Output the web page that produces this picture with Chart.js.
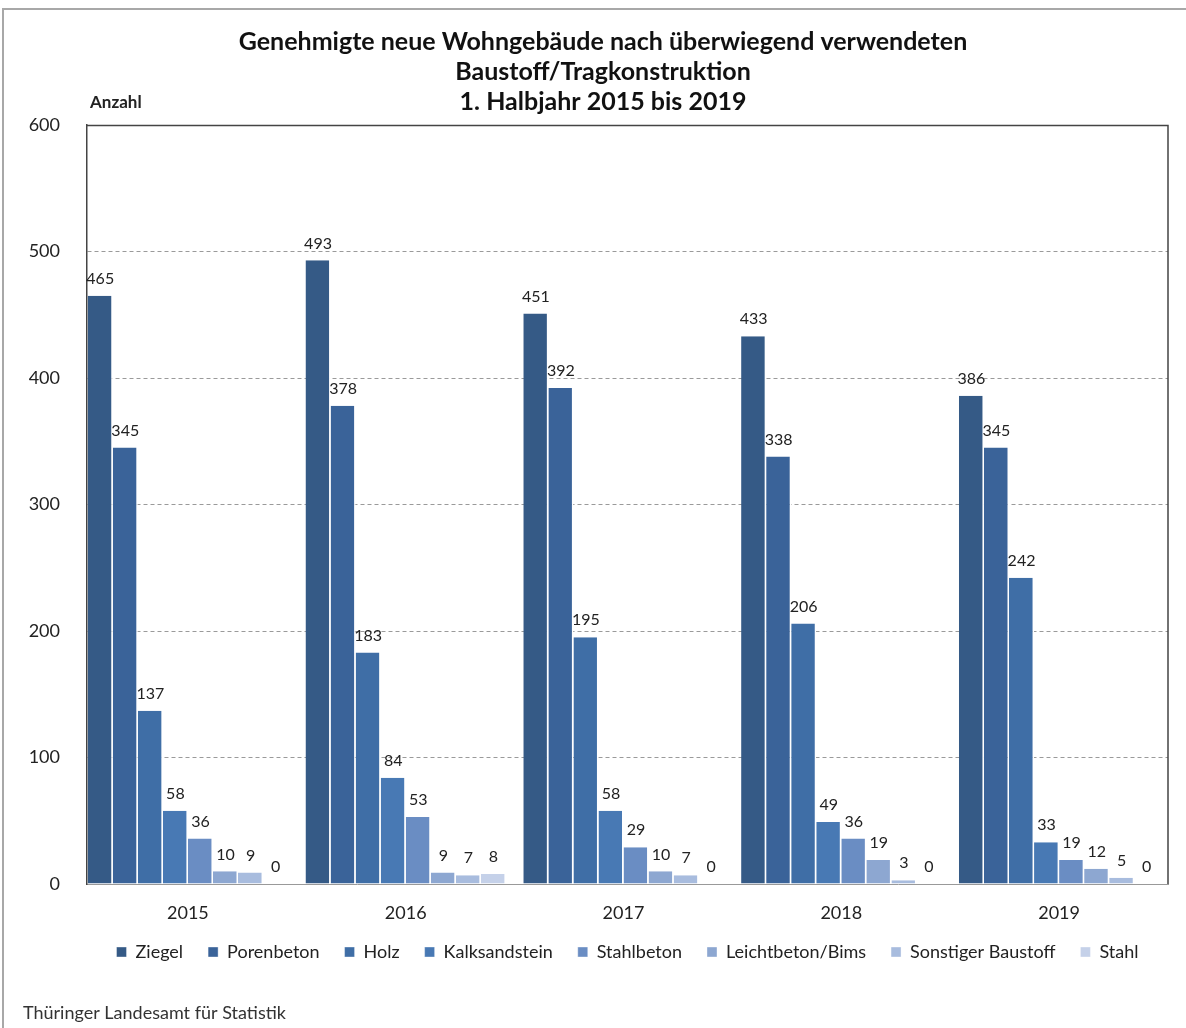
<!DOCTYPE html>
<html>
<head>
<meta charset="utf-8">
<script src="https://cdn.jsdelivr.net/npm/chart.js@4.4.1/dist/chart.umd.min.js"></script>
<style>
  html, body { margin: 0; padding: 0; background: #fff; }
  #wrap { width: 1186px; height: 1028px; position: relative; }
</style>
</head>
<body>
<div id="wrap"><canvas id="myBarChart" width="1186" height="1028"></canvas></div>
<script>
// Daten: genehmigte neue Wohngebäude, 1. Halbjahr
const years = ['2015', '2016', '2017', '2018', '2019'];
const ziegel = [465, 493, 451, 433, 386];
const porenbeton = [345, 378, 392, 338, 345];
const holz = [137, 183, 195, 206, 242];
const kalksandstein = [58, 84, 58, 49, 33];
const stahlbeton = [36, 53, 29, 36, 19];
const leichtbeton = [10, 9, 10, 19, 12];
const sonstiger = [9, 7, 7, 3, 5];
const stahl = [0, 8, 0, 0, 0];
const yTicks = [0, 100, 200, 300, 400, 500, 600];
const titleLines = [
    'Genehmigte neue Wohngebäude nach überwiegend verwendeten',
    'Baustoff/Tragkonstruktion',
    '1. Halbjahr 2015 bis 2019'
];

const fontFamily = 'Lato, "Open Sans", sans-serif';
const textColor = '#222';

// Beschriftung über den Balken
const valueLabels = {
    id: 'valueLabels',
    afterDatasetsDraw(chart) {
        const ctx = chart.ctx;
        ctx.save();
        ctx.font = '16px ' + fontFamily;
        ctx.fillStyle = textColor;
        ctx.textAlign = 'center';
        ctx.textBaseline = 'bottom';
        chart.data.datasets.forEach((ds, i) => {
            const meta = chart.getDatasetMeta(i);
            meta.data.forEach((bar, j) => {
                ctx.fillText(ds.data[j], bar.x, bar.y - 9);
            });
        });
        ctx.restore();
    }
};

// Excel-artige Lage: Gruppen beginnen direkt an der linken Achse, Legende etwas höher
const layoutTweak = {
    id: 'layoutTweak',
    afterLayout(chart) {
        const x = chart.scales.x;
        x._startPixel -= 8;
        x._length += 8;
        if (chart.legend) {
            chart.legend.top -= 6;
            chart.legend.bottom -= 6;
        }
    }
};

// Rahmen, Titel, Achsentitel und Quelle
const frame = {
    id: 'frame',
    afterDraw(chart) {
        const ctx = chart.ctx;
        const a = chart.chartArea;
        ctx.save();
        // äußerer Rahmen
        ctx.strokeStyle = '#a8a8a8';
        ctx.lineWidth = 2;
        ctx.beginPath();
        ctx.moveTo(1186, 9);
        ctx.lineTo(3, 9);
        ctx.lineTo(3, 1028);
        ctx.stroke();
        // Rahmen der Zeichenfläche
        ctx.strokeStyle = '#444';
        ctx.lineWidth = 1.5;
        ctx.beginPath();
        ctx.moveTo(a.left, a.top + 0.5);
        ctx.lineTo(a.right, a.top + 0.5);
        ctx.lineTo(a.right, a.bottom);
        ctx.stroke();
        // Titel
        ctx.fillStyle = '#111';
        ctx.textBaseline = 'middle';
        ctx.textAlign = 'center';
        ctx.font = 'bold 25px ' + fontFamily;
        titleLines.forEach((t, i) => ctx.fillText(t, 603, 42 + i * 30));
        ctx.fillStyle = textColor;
        ctx.textAlign = 'left';
        ctx.font = 'bold 17px ' + fontFamily;
        ctx.fillText('Anzahl', 90, 103);
        ctx.font = '18px ' + fontFamily;
        ctx.fillStyle = '#333';
        ctx.fillText('Thüringer Landesamt für Statistik', 23, 1013);
        ctx.restore();
    }
};

const ctx = document.getElementById('myBarChart').getContext('2d');
new Chart(ctx, {
    type: 'bar',
    data: {
        labels: years,
        datasets: [
            { label: 'Ziegel', data: ziegel, backgroundColor: '#355A86' },
            { label: 'Porenbeton', data: porenbeton, backgroundColor: '#3A6399' },
            { label: 'Holz', data: holz, backgroundColor: '#3F6EA6' },
            { label: 'Kalksandstein', data: kalksandstein, backgroundColor: '#4879B4' },
            { label: 'Stahlbeton', data: stahlbeton, backgroundColor: '#6A8DC3' },
            { label: 'Leichtbeton/Bims', data: leichtbeton, backgroundColor: '#8DA7D1' },
            { label: 'Sonstiger Baustoff', data: sonstiger, backgroundColor: '#A8BCDE' },
            { label: 'Stahl', data: stahl, backgroundColor: '#C5D1E9' }
        ].map(ds => Object.assign(ds, {
            borderColor: '#ffffff',
            borderWidth: { left: 0, right: 1.5, top: 0, bottom: 0 },
            borderSkipped: false,
            categoryPercentage: 0.92,
            barPercentage: 1.0
        }))
    },
    options: {
        responsive: false,
        animation: false,
        devicePixelRatio: 1,
        layout: {
            autoPadding: false,
            padding: { left: 10, right: 18, top: 125, bottom: 51 }
        },
        plugins: {
            title: { display: false },
            legend: {
                position: 'bottom',
                fullSize: false,
                labels: {
                    boxWidth: 10,
                    boxHeight: 10,
                    padding: 25,
                    color: textColor,
                    font: { family: fontFamily, size: 18 }
                }
            },
            tooltip: { enabled: false }
        },
        scales: {
            x: {
                grid: { display: false, drawTicks: false },
                border: { display: true, color: '#999', width: 1 },
                ticks: {
                    color: textColor,
                    padding: 18,
                    font: { family: fontFamily, size: 18 }
                },
                afterFit(scale) { scale.height = 40; }
            },
            y: {
                min: 0,
                max: 600,
                afterBuildTicks(scale) {
                    scale.ticks = yTicks.map(v => ({ value: v }));
                },
                grid: {
                    drawTicks: false,
                    color: c => (c.tick && (c.tick.value === 0 || c.tick.value === 600)) ? 'rgba(0,0,0,0)' : '#9a9a9a',
                    lineWidth: 1
                },
                border: { display: true, color: '#444', width: 1.5, dash: [4, 3] },
                ticks: {
                    color: textColor,
                    padding: 27,
                    font: { family: fontFamily, size: 18 }
                },
                afterFit(scale) { scale.width = 77; }
            }
        }
    },
    plugins: [layoutTweak, valueLabels, frame]
});
</script>
</body>
</html>
